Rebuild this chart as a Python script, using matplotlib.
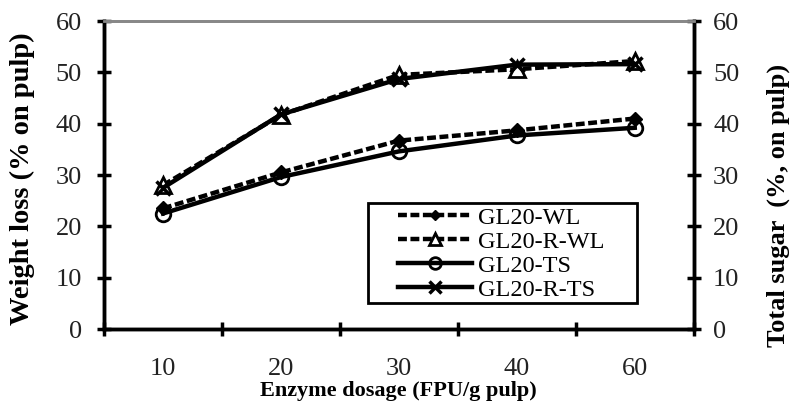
import numpy as np
import matplotlib.pyplot as plt
from matplotlib.patches import Rectangle

plt.rcParams['font.family'] = ['Liberation Serif', 'DejaVu Serif']

# data
dosage = ['10', '20', '30', '40', '60']
gl20_wl = [23.5, 30.5, 36.7, 38.7, 41.0]
gl20_r_wl = [28.0, 41.7, 49.5, 50.6, 52.2]
gl20_ts = [22.5, 29.6, 34.6, 37.7, 39.2]
gl20_r_ts = [27.5, 41.8, 48.7, 51.5, 51.6]

y_ticks = [0, 10, 20, 30, 40, 50, 60]

fig = plt.figure(figsize=(7.91, 4.04), dpi=100)
ax = fig.add_axes([0.1315, 0.1856, 0.7455, 0.7624])
ax2 = ax.twinx()

x = np.arange(len(dosage))
lw = 3.2
dash = (2.0, 0.8)
ax.plot(x, gl20_wl, '--', color='black', lw=lw, marker='D', ms=7,
        mfc='black', mec='black', label='GL20-WL', dashes=dash)
ax.plot(x, gl20_r_wl, '--', color='black', lw=lw, marker='^', ms=11,
        mfc='white', mec='black', mew=2, label='GL20-R-WL', dashes=dash)
ax.plot(x, gl20_ts, '-', color='black', lw=lw, marker='o', ms=10.5,
        mfc='none', mec='black', mew=2, label='GL20-TS')
ax.plot(x, gl20_r_ts, '-', color='black', lw=lw, marker='x', ms=10,
        mec='black', mew=2.5, label='GL20-R-TS')

ax.set_xlim(-0.5, len(dosage) - 0.5)
ax.set_ylim(0, 60)
ax2.set_ylim(0, 60)
ax.set_yticks(y_ticks)
ax2.set_yticks(y_ticks)

# category labels in the middle, tick marks on the boundaries
ax.set_xticks(x)
ax.set_xticklabels(dosage)
ax.set_xticks(np.arange(-0.5, len(dosage)), minor=True)
ax.tick_params(axis='x', which='major', length=0, pad=21, labelsize=19, labelcolor='#222222')
ax.tick_params(axis='x', which='minor', direction='inout', length=10, width=2.5)
ax.tick_params(axis='y', direction='inout', length=10, width=2.5, labelsize=19,
               labelcolor='#222222', pad=11)
ax2.tick_params(axis='y', direction='inout', length=10, width=2.5, labelsize=19,
                labelcolor='#222222', pad=9)

for a in (ax, ax2):
    a.spines['left'].set_linewidth(2.5)
    a.spines['right'].set_linewidth(2.5)
    a.spines['bottom'].set_linewidth(2.5)
    a.spines['top'].set_color('#888888')
    a.spines['top'].set_linewidth(2)

ax.set_xlabel('Enzyme dosage (FPU/g pulp)', fontsize=16, fontweight='bold')
ax.xaxis.set_label_coords(0.5, -0.17)
ax.set_ylabel('Weight loss (% on pulp)', fontsize=20.5, fontweight='bold')
ax.yaxis.set_label_coords(-0.117, 0.487)
ax2.set_ylabel('Total sugar  (%, on pulp)', fontsize=19, fontweight='bold', rotation=90)
ax2.yaxis.set_label_coords(1.124, 0.40)

# legend box drawn separately so the handles can sit inset like the reference
ax.add_patch(Rectangle((0.447, 0.084), 0.457, 0.325, transform=ax.transAxes,
                       fill=False, edgecolor='black', lw=2, zorder=4, clip_on=False))
leg = ax.legend(loc='center left', bbox_to_anchor=(0.498, 0.244), frameon=False,
                fontsize=17.5, handlelength=3.05, handletextpad=0.25, borderpad=0,
                labelspacing=0.08, borderaxespad=0, markerscale=0.8)

fig.savefig('out.png', dpi=100)
